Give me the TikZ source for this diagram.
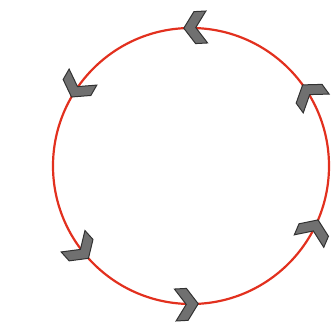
\documentclass[tikz,border=0pt]{standalone}
\usetikzlibrary{shapes.geometric}
\definecolor{ringred}{RGB}{226,48,30}
\definecolor{chevfill}{RGB}{112,112,112}
\definecolor{chevline}{RGB}{50,50,50}
\tikzset{
  ringstyle/.style={circle, draw=ringred, line width=2.2pt, minimum size=276pt, inner sep=0pt, outer sep=0pt},
  chevstyle/.style={fill=chevfill, draw=chevline, line width=1pt, line join=miter},
  chev/.pic={\filldraw[chevstyle] (0,0) -- (-11,16) -- (-23,16) -- (-12,0) -- (-23,-16) -- (-11,-16) -- cycle;}
}
\begin{document}
\begin{tikzpicture}[x=1pt,y=1pt]
\useasboundingbox (0,0) rectangle (334,321);
\node[ringstyle] (ring) at (191,155) {};
\pic[rotate=183] at (ring.93) {chev};
\pic[rotate=240] at (ring.150) {chev};
\pic[rotate=312] at (ring.222) {chev};
\pic[rotate=3] at (ring.273) {chev};
\pic[rotate=67] at (ring.337) {chev};
\pic[rotate=126] at (ring.36) {chev};
\end{tikzpicture}
\end{document}
